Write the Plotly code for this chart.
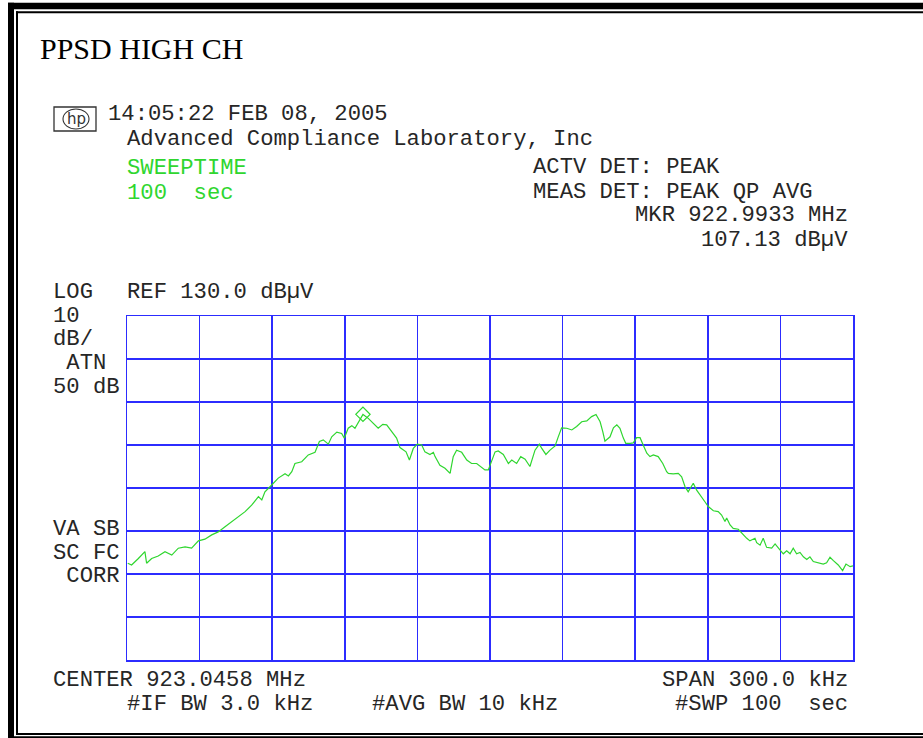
import numpy as np
import plotly.graph_objects as go

# ---------------- data ----------------
TITLE = "PPSD HIGH CH"
CENTER_MHZ = 923.0458
SPAN_KHZ = 300.0
REF_DBUV = 130.0
DB_PER_DIV = 10.0
N_XDIV = 10
N_YDIV = 8
MKR_MHZ = 922.9933
MKR_DBUV = 107.13

# trace: frequency offset from centre (kHz) and level (dBuV)
offset_khz = [
    -149.7, -148.1, -145.3, -142.6, -141.9, -139.8, -137.1, -134.3, -131.5, -128.8,
    -126.0, -123.3, -120.5, -117.8, -115.0, -112.3, -109.5, -106.7, -104.0, -101.2,
    -98.5, -95.7, -94.3, -93.0, -90.2, -87.5, -84.7, -83.3, -81.9, -80.6,
    -77.8, -75.1, -72.3, -70.5, -68.9, -66.8, -65.4, -63.3, -61.3, -60.2,
    -58.6, -57.1, -55.8, -54.0, -52.5, -50.3, -48.2, -46.2, -44.3, -42.7,
    -40.6, -38.6, -37.2, -34.7, -33.3, -31.7, -30.0, -28.2, -26.9, -24.8,
    -23.4, -22.7, -20.7, -18.6, -16.5, -15.2, -13.8, -11.7, -9.6, -7.6,
    -5.5, -4.1, -2.1, -0.7, 0.7, 2.1, 3.4, 5.5, 7.6, 9.0,
    11.0, 12.7, 14.5, 16.5, 18.6, 20.4, 21.4, 23.1, 24.8, 26.9,
    28.2, 29.6, 31.7, 33.8, 35.8, 37.9, 40.0, 42.0, 43.8, 45.5,
    46.6, 47.5, 49.6, 51.0, 52.4, 53.7, 55.1, 56.1, 57.9, 59.2,
    60.6, 62.0, 63.3, 64.8, 66.1, 67.5, 69.5, 71.4, 73.0, 73.7,
    75.7, 77.8, 79.2, 80.6, 81.9, 83.3, 84.0, 85.4, 87.5, 88.8,
    90.2, 92.3, 94.3, 95.7, 97.1, 97.8, 99.2, 100.5, 102.6, 104.0,
    106.1, 107.4, 109.5, 110.2, 111.6, 112.9, 114.3, 116.4, 117.8, 119.8,
    121.2, 122.6, 124.0, 125.3, 126.7, 128.1, 129.5, 130.9, 132.2, 133.6,
    135.7, 137.7, 139.1, 140.5, 141.9, 143.9, 145.7, 147.1, 148.8, 150.0,
]
level_dbuv = [
    72.5, 72.1, 73.6, 75.2, 72.5, 73.6, 74.2, 75.2, 74.4, 76.0,
    76.3, 76.0, 77.7, 78.1, 79.1, 79.8, 81.0, 82.2, 83.3, 84.5,
    86.0, 88.0, 87.2, 89.1, 90.7, 92.3, 93.3, 92.8, 93.8, 95.7,
    96.1, 97.7, 98.3, 100.8, 101.2, 100.2, 101.9, 103.0, 102.7, 101.6,
    103.9, 104.5, 103.9, 105.8, 107.1, 106.2, 105.0, 103.9, 104.8, 104.7,
    103.1, 101.6, 99.4, 98.4, 96.5, 99.2, 100.2, 100.0, 98.4, 97.8,
    98.3, 97.3, 95.3, 94.6, 93.4, 97.3, 98.8, 98.3, 96.5, 95.7,
    95.7, 95.0, 94.2, 94.2, 96.5, 98.4, 98.6, 97.8, 95.7, 96.5,
    95.7, 97.3, 96.7, 95.0, 98.8, 100.2, 99.2, 97.8, 98.8, 99.8,
    101.9, 104.0, 103.9, 103.5, 104.3, 105.4, 105.6, 106.6, 107.1, 105.4,
    103.1, 100.9, 101.9, 104.0, 104.7, 103.9, 101.6, 100.4, 100.4, 100.5,
    101.7, 101.7, 100.0, 98.1, 97.3, 97.7, 97.3, 95.7, 93.8, 93.4,
    93.3, 93.4, 92.6, 90.3, 89.1, 90.3, 91.1, 89.5, 88.0, 86.8,
    85.7, 84.7, 84.5, 83.7, 82.2, 83.0, 81.4, 80.6, 80.4, 79.5,
    78.3, 77.7, 78.3, 77.3, 76.7, 78.3, 76.2, 76.0, 77.0, 75.6,
    74.7, 75.4, 74.7, 76.0, 74.7, 75.0, 74.0, 73.4, 74.0, 72.9,
    72.6, 72.3, 72.6, 73.9, 73.1, 72.1, 70.8, 72.3, 71.7, 71.9,
]

header_date = "14:05:22 FEB 08, 2005"
header_lab = "Advanced Compliance Laboratory, Inc"
sweep_lines = ["SWEEPTIME", "100  sec"]
det_lines = ["ACTV DET: PEAK", "MEAS DET: PEAK QP AVG"]
mkr_lines = ["MKR 922.9933 MHz", "107.13 dBµV"]
scale_label = "LOG"
ref_label = "REF 130.0 dBµV"
left_labels = ["10", "dB/", " ATN", "50 dB"]
corr_labels = ["VA SB", "SC FC", " CORR"]
bottom_left = ["CENTER 923.0458 MHz", "#IF BW 3.0 kHz"]
bottom_mid = "#AVG BW 10 kHz"
bottom_right = ["SPAN 300.0 kHz", "#SWP 100  sec"]

# ---------------- figure geometry (style) ----------------
W, H = 923, 738
ML, MR, MT, MB = 127, 70, 316, 78
PW, PH = W - ML - MR, H - MT - MB

def px(x):
    return (x - ML) / PW

def py(y):
    return (H - MB - y) / PH

MONO = "Liberation Mono, DejaVu Sans Mono, monospace"
TXT = "#262626"
GREEN = "#2fd62f"
BLUE = "#2c2cff"
FS = 22.2

freq_mhz = CENTER_MHZ + np.array(offset_khz) / 1000.0
f_start = CENTER_MHZ - SPAN_KHZ / 2000.0
f_stop = CENTER_MHZ + SPAN_KHZ / 2000.0
y_bot = REF_DBUV - DB_PER_DIV * N_YDIV

fig = go.Figure()
fig.add_trace(go.Scatter(x=freq_mhz, y=level_dbuv, mode="lines",
                         line=dict(color=GREEN, width=1.2), hoverinfo="skip",
                         showlegend=False))
fig.add_trace(go.Scatter(x=[MKR_MHZ], y=[MKR_DBUV], mode="markers",
                         marker=dict(symbol="diamond-open", size=11,
                                     color=GREEN, line=dict(width=1.2, color=GREEN)),
                         hoverinfo="skip", showlegend=False))

annotations = []

def ann(text, x, y, color=TXT, anchor="left", size=FS, family=MONO, **kw):
    annotations.append(dict(text=text, x=px(x), y=py(y), xref="paper", yref="paper",
                            xanchor=anchor, yanchor="middle", showarrow=False,
                            font=dict(family=family, size=size, color=color), **kw))

ann(TITLE, 38, 48, color="#000000", size=30, family="Liberation Serif, Times New Roman, serif")
ann(header_date, 106, 114)
ann(header_lab, 125, 139.5)
ann(sweep_lines[0], 125, 169, color=GREEN)
ann(sweep_lines[1], 125, 193, color=GREEN)
ann(det_lines[0], 531, 168)
ann(det_lines[1], 531, 192)
ann(mkr_lines[0], 850, 216, anchor="right")
ann(mkr_lines[1], 850, 240, anchor="right")
ann(scale_label, 51, 292)
ann(ref_label, 125, 292)
for t, yy in zip(left_labels, [316, 339, 363, 387]):
    ann(t, 51, yy)
for t, yy in zip(corr_labels, [529, 553, 576]):
    ann(t, 51, yy)
ann(bottom_left[0], 51, 680)
ann(bottom_left[1], 125, 704)
ann(bottom_mid, 370, 704)
ann(bottom_right[0], 850, 680, anchor="right")
ann(bottom_right[1], 850, 704, anchor="right")
ann("hp", 76, 119, anchor="center", size=15, family="DejaVu Sans, sans-serif",
    color="#333333")

shapes = []

def rect(x0, y0, x1, y1, fill=None, line_w=0, line_c="#000000"):
    d = dict(type="rect", xref="paper", yref="paper", x0=px(x0), x1=px(x1),
             y0=py(y0), y1=py(y1), layer="above")
    if fill:
        d["fillcolor"] = fill
        d["line"] = dict(width=0)
    else:
        d["line"] = dict(width=line_w, color=line_c)
    shapes.append(d)

# double page frame
rect(8, 2.7, 14, 745, fill="#000000")
rect(8, 2.7, 930, 9.3, fill="#000000")
rect(8, 736.3, 930, 745, fill="#000000")
rect(16, 11.3, 18, 735, fill="#000000")
rect(16, 11.3, 930, 13.3, fill="#000000")
rect(16, 733, 930, 735, fill="#000000")
# hp logo
rect(54, 107, 96, 131, line_w=1.3, line_c="#333333")
shapes.append(dict(type="circle", xref="paper", yref="paper", x0=px(63), x1=px(89),
                   y0=py(109), y1=py(129), line=dict(width=1.1, color="#333333")))

fig.update_layout(
    width=W, height=H, autosize=False,
    margin=dict(l=ML, r=MR, t=MT, b=MB, pad=0),
    paper_bgcolor="white", plot_bgcolor="white",
    annotations=annotations, shapes=shapes,
    xaxis=dict(range=[f_start, f_stop], tick0=f_start, dtick=SPAN_KHZ / 1000.0 / N_XDIV,
               showgrid=True, gridcolor=BLUE, gridwidth=1.5, showticklabels=False,
               ticks="", zeroline=False, showline=True, mirror=True,
               linecolor=BLUE, linewidth=1.5, fixedrange=True),
    yaxis=dict(range=[y_bot, REF_DBUV], tick0=y_bot, dtick=DB_PER_DIV,
               showgrid=True, gridcolor=BLUE, gridwidth=1.5, showticklabels=False,
               ticks="", zeroline=False, showline=True, mirror=True,
               linecolor=BLUE, linewidth=1.5, fixedrange=True),
)

fig.write_html("out.html", config={"displayModeBar": False, "staticPlot": True},
               post_script="document.body.style.margin='0';document.body.style.overflow='hidden';")
